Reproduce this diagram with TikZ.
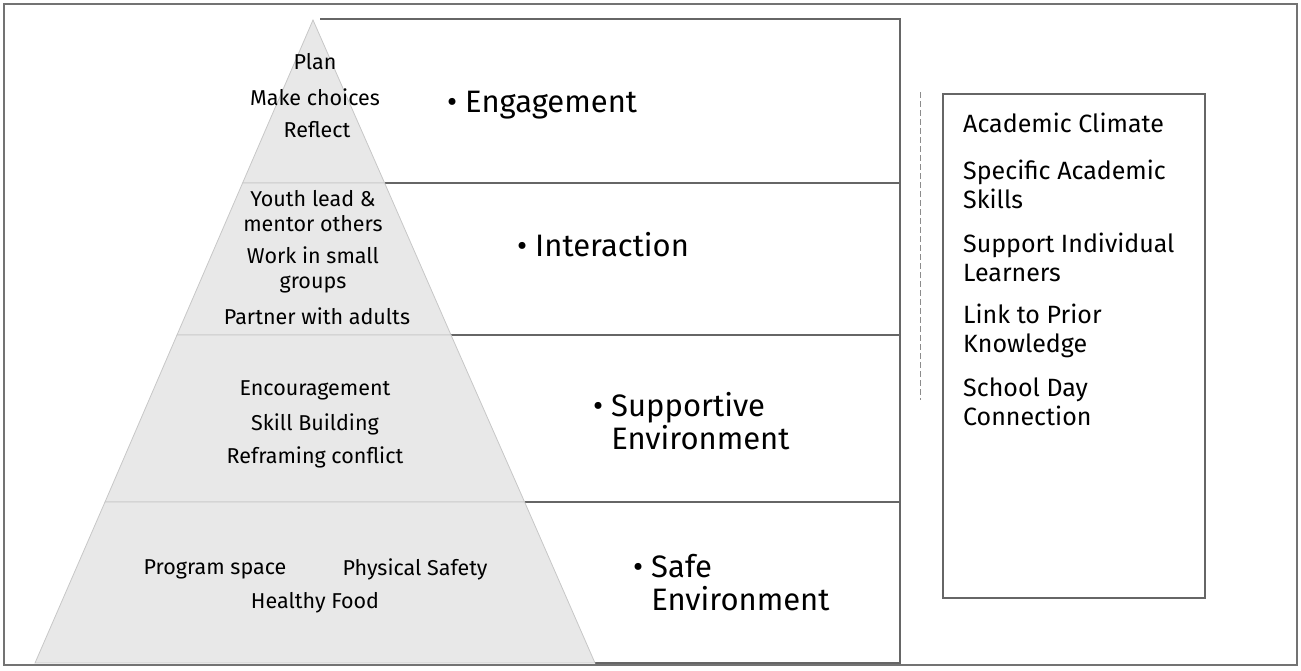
\documentclass[tikz,border=0pt]{standalone}
\usepackage{fontspec}
\setmainfont{Fira Sans}
\begin{document}
\begin{tikzpicture}[x=1pt,y=-1pt,
  frame/.style={draw=black!55, line width=1.2pt},
  bandline/.style={draw=black!60, line width=1.3pt},
  faint/.style={draw=black!45, line width=1pt, dash pattern=on 6pt off 3pt},
  layer/.style={fill=black!9, draw=black!22, line width=0.8pt},
  ptext/.style={font=\fontsize{21.5}{25}\selectfont, align=center, inner sep=0pt},
  btext/.style={font=\fontsize{31}{33}\selectfont, align=left, anchor=west, inner sep=0pt},
  rtext/.style={font=\fontsize{25}{29}\selectfont, align=left, anchor=west, inner sep=0pt}]
\useasboundingbox (0,0) rectangle (1301,670);
% outer frame
\draw[frame] (4,4) rectangle (1297,665);
% pyramid corners
\coordinate (apex) at (313,20);
\coordinate (l1) at (242.6,183); \coordinate (r1) at (384.6,183);
\coordinate (l2) at (177,335);   \coordinate (r2) at (451,335);
\coordinate (l3) at (105,502);   \coordinate (r3) at (524.6,502);
\coordinate (l4) at (35,663);    \coordinate (r4) at (595,663);
% band edges
\coordinate (e0) at (900,19);
\coordinate (e1) at (900,183);
\coordinate (e2) at (900,335);
\coordinate (e3) at (900,502);
\coordinate (e4) at (900,663);
% bands
\draw[bandline] (320,19) -- (e0) -- (e4) -- (r4);
\draw[bandline] (r1) -- (e1);
\draw[bandline] (r2) -- (e2);
\draw[bandline] (r3) -- (e3);
% pyramid layers
\path[layer] (apex) -- (r1) -- (l1) -- cycle;
\path[layer] (l1) -- (r1) -- (r2) -- (l2) -- cycle;
\path[layer] (l2) -- (r2) -- (r3) -- (l3) -- cycle;
\path[layer] (l3) -- (r3) -- (r4) -- (l4) -- cycle;
% faint bracket line
\coordinate (b1t) at (920,92); \coordinate (b1b) at (920,400);
\draw[faint] (b1t) -- (b1b);
% right box
\draw[bandline] (943,94) rectangle (1205,598);
% pyramid texts
\node[ptext] (plan) at (315,62) {Plan};
\node[ptext] (choices) at (315,97) {Make choices};
\node[ptext] (reflect) at (317,130) {Reflect};
\node[ptext] (youth) at (313,211) {Youth lead \&\\mentor others};
\node[ptext] (work) at (313,270) {Work in small\\groups};
\node[ptext] (partner) at (317,316) {Partner with adults};
\node[ptext] (enc) at (315,390) {Encouragement};
\node[ptext] (skill) at (315,424) {Skill Building};
\node[ptext] (refr) at (315,457) {Reframing conflict};
\node[ptext] (space) at (215,569) {Program space};
\node[ptext] (safety) at (415,569) {Physical Safety};
\node[ptext] (food) at (315,603) {Healthy Food};
% band texts
\node[btext] (eng) at (447,105) {\textbullet\hspace{8pt}Engagement};
\node[btext] (inter) at (517,245) {\textbullet\hspace{8pt}Interaction};
\node[btext] (supp) at (593,421) {\textbullet\hspace{8pt}Supportive\\\phantom{\textbullet\hspace{8pt}}Environment};
\node[btext] (safe) at (633,583) {\textbullet\hspace{8pt}Safe\\\phantom{\textbullet\hspace{8pt}}Environment};
% right box texts
\node[rtext] (ac) at (963,123) {Academic Climate};
\node[rtext] (sa) at (963,184) {Specific Academic\\Skills};
\node[rtext] (si) at (963,257) {Support Individual\\Learners};
\node[rtext] (lp) at (963,331) {Link to Prior\\Knowledge};
\node[rtext] (sd) at (963,402) {School Day\\Connection};
\end{tikzpicture}
\end{document}
